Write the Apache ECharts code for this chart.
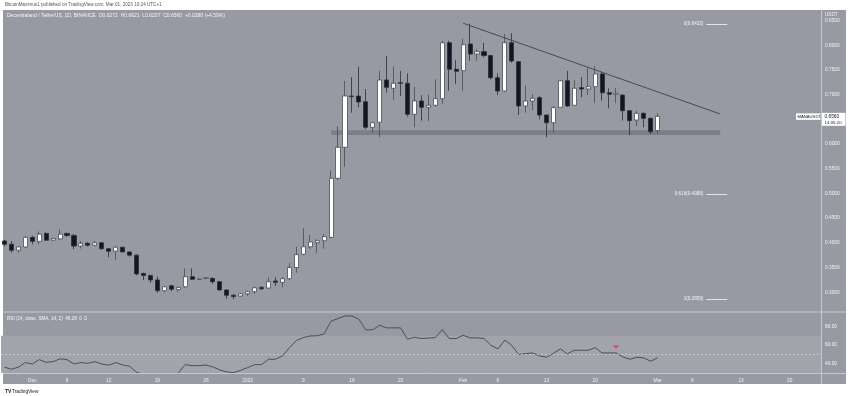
<!DOCTYPE html>
<html><head><meta charset="utf-8">
<script src="https://cdn.jsdelivr.net/npm/echarts@6/dist/echarts.min.js"></script>
<style>html,body{margin:0;padding:0;background:#fff}#c{width:850px;height:396px}</style>
</head><body><div id="c"></div>
<script>
// ---- categories (daily, Nov 27 2022 -> Mar 24 2023) ----
const dates = [
'2022-11-27','2022-11-28','2022-11-29','2022-11-30',
'2022-12-01','2022-12-02','2022-12-03','2022-12-04','2022-12-05','2022-12-06','2022-12-07','2022-12-08','2022-12-09','2022-12-10',
'2022-12-11','2022-12-12','2022-12-13','2022-12-14','2022-12-15','2022-12-16','2022-12-17','2022-12-18','2022-12-19','2022-12-20',
'2022-12-21','2022-12-22','2022-12-23','2022-12-24','2022-12-25','2022-12-26','2022-12-27','2022-12-28','2022-12-29','2022-12-30','2022-12-31',
'2023-01-01','2023-01-02','2023-01-03','2023-01-04','2023-01-05','2023-01-06','2023-01-07','2023-01-08','2023-01-09','2023-01-10',
'2023-01-11','2023-01-12','2023-01-13','2023-01-14','2023-01-15','2023-01-16','2023-01-17','2023-01-18','2023-01-19','2023-01-20',
'2023-01-21','2023-01-22','2023-01-23','2023-01-24','2023-01-25','2023-01-26','2023-01-27','2023-01-28','2023-01-29','2023-01-30','2023-01-31',
'2023-02-01','2023-02-02','2023-02-03','2023-02-04','2023-02-05','2023-02-06','2023-02-07','2023-02-08','2023-02-09','2023-02-10',
'2023-02-11','2023-02-12','2023-02-13','2023-02-14','2023-02-15','2023-02-16','2023-02-17','2023-02-18','2023-02-19','2023-02-20',
'2023-02-21','2023-02-22','2023-02-23','2023-02-24','2023-02-25','2023-02-26','2023-02-27','2023-02-28',
'2023-03-01','2023-03-02','2023-03-03','2023-03-04','2023-03-05','2023-03-06','2023-03-07','2023-03-08','2023-03-09','2023-03-10',
'2023-03-11','2023-03-12','2023-03-13','2023-03-14','2023-03-15','2023-03-16','2023-03-17','2023-03-18','2023-03-19','2023-03-20',
'2023-03-21','2023-03-22','2023-03-23','2023-03-24'
];

// ---- MANA/USDT daily OHLC (Nov 27 -> Mar 1) ----
const opens = [.4037,.397,.385,.3915,
.411,.403,.419,.4053,.408,.419,.415,.3935,.399,.395,.400,.388,.383,.391,.3815,.375,.338,.334,.3247,.303,.313,.3056,.311,.3314,.326,.3277,.328,.3213,.3045,.294,.2923,
.2968,.301,.3097,.3085,.3227,.32,.3273,.35,.3767,.392,.4002,.4043,.411,.5306,.5933,.6972,.697,.6856,.6338,.644,.7296,.7128,.7241,.7229,.6601,.6871,.6743,.6784,.6917,.805,.7512,
.7485,.8024,.7822,.787,.779,.7342,.7073,.805,.7666,.677,.687,.6938,.6587,.6431,.6743,.7281,.6784,.714,.7113,.716,.7417,.7038,.7006,.699,.6674,.6485,.6621,.652,
.6272];
const highs = [.406,.4035,.393,.4137,
.414,.423,.421,.410,.427,.4205,.4175,.4035,.4015,.404,.4015,.3895,.3935,.392,.3825,.3765,.3395,.335,.3314,.3127,.315,.311,.3484,.3484,.3275,.330,.3297,.3225,.3055,.2955,.2985,
.303,.3115,.3125,.33,.33,.331,.359,.392,.4294,.4158,.4075,.4178,.547,.6364,.7275,.735,.7565,.7113,.6445,.7484,.7787,.757,.7478,.743,.716,.6986,.70,.731,.809,.809,.77,
.813,.8433,.7917,.805,.7805,.743,.8227,.824,.768,.718,.701,.6972,.660,.677,.7296,.748,.7296,.735,.7544,.758,.7464,.7128,.714,.700,.668,.6674,.664,.653,
.6621];
const lows = [.393,.380,.380,.389,
.397,.397,.404,.403,.4065,.412,.387,.3885,.3925,.393,.386,.3706,.365,.3855,.372,.334,.3247,.319,.299,.300,.302,.3004,.309,.325,.3245,.326,.3166,.3034,.2868,.2859,.291,
.2925,.297,.3045,.3075,.3125,.31,.325,.3395,.375,.388,.3787,.388,.409,.527,.554,.6634,.6743,.6298,.623,.6136,.7038,.689,.6972,.6553,.6338,.6472,.646,.6755,.681,.708,.7215,
.708,.7686,.7686,.7755,.731,.699,.7053,.7646,.6587,.6634,.6688,.65,.6136,.623,.6743,.6755,.677,.6945,.699,.6836,.6877,.6722,.6824,.6472,.6182,.6364,.6338,.6202,
.6207];
const closes = [.397,.385,.3915,.411,
.403,.4175,.4053,.4087,.4175,.415,.3935,.399,.395,.400,.388,.383,.391,.3815,.375,.337,.334,.3247,.303,.311,.306,.3097,.3314,.3262,.3265,.3297,.3213,.3045,.2937,.2914,.2968,
.3012,.309,.3070,.3213,.32,.3273,.35,.376,.392,.4016,.4043,.4124,.5306,.5933,.6972,.696,.685,.6338,.6431,.7296,.7148,.7229,.7229,.6601,.6871,.6743,.6784,.6917,.805,.7512,.7472,
.801,.7822,.787,.779,.7342,.7073,.805,.768,.677,.687,.6925,.6587,.6431,.6735,.7281,.677,.7128,.7113,.716,.7417,.7038,.7006,.7026,.6674,.6472,.6621,.652,.6249,
.656];

// ---- RSI(14) ----
const rsi = [36,33.8,36,41,
39.5,44.2,41.3,42,45,44.2,39.5,41,40.3,42,39.5,38.1,41,38.4,37,30.7,28,25.5,21.5,25,24.5,29.5,38.8,37.7,37.7,38.4,36.3,33,30.9,30.2,32.7,
35.6,38.8,38.8,44.6,44.6,48.2,56.9,64.8,68,69.8,70,72,85.7,88.6,91.4,91.4,87.8,76.3,76.5,81.4,78.5,78.5,78.5,66.2,68.4,67,67.5,68,76.7,67,67,
70.5,67.7,67.7,67,59.7,55.8,65.2,59.7,49.6,50.7,51.4,48.2,46.8,51,55.8,50.4,54.3,54.3,54.3,57.1,51.4,51.4,51.4,47.1,44.6,46.8,46,42.4,
46.28];
const rsiSignal = [['2023-02-23', 57.5]];

// ---- drawings ----
const trendLine = [['2023-02-01', 0.8445], ['2023-03-10', 0.6607]];
const supportZone = {from: '2023-01-13', to: '2023-03-10', top: 0.628, bottom: 0.618};
const fibLevels = [0.8433, 0.4988, 0.2859];
const fibNames = ['0', '0.618', '1'];
const fibSpan = ['2023-03-08', '2023-03-11'];

// ---- tick labels ----
const tickDates = ['2022-12-01','2022-12-06','2022-12-12','2022-12-19','2022-12-26','2023-01-01','2023-01-09','2023-01-16','2023-01-23','2023-02-01','2023-02-06','2023-02-13','2023-02-20','2023-03-01','2023-03-06','2023-03-13','2023-03-20'];
const tickLabels = ['Dec','6','12','19','26','2023','9','16','23','Feb','6','13','20','Mar','6','13','20'];
const priceTicks = [0.30,0.35,0.40,0.45,0.50,0.55,0.60,0.65,0.70,0.75,0.80,0.85];
const rsiTicks = [40,60,80];

const FONT = 'Liberation Sans';
const candleData = opens.map((o, i) => [o, closes[i], lows[i], highs[i]]);

const chart = echarts.init(document.getElementById('c'));
const txt = (id, x, y, text, o) => Object.assign({
  type: 'text', id, x, y, z: 100,
  style: Object.assign({text, fill: '#f2f3f5', font: '5px ' + FONT, textVerticalAlign: 'middle'}, (o && o.style) || {})
}, o ? Object.assign({}, o, {style: undefined}) : {});

const option = {
  animation: false,
  backgroundColor: '#ffffff',
  graphic: [
    {type: 'rect', id: 'panel', z: -10, shape: {x: 3, y: 10, width: 843, height: 374}, style: {fill: '#979aa2'}},
    {type: 'line', id: 'sep', z: 50, shape: {x1: 3, y1: 312, x2: 846, y2: 312}, style: {stroke: '#b6b8bf', lineWidth: 1.5}},
    {type: 'line', id: 'dax', z: 50, shape: {x1: 3, y1: 373.5, x2: 846, y2: 373.5}, style: {stroke: '#c6c8ce', lineWidth: 1}},
    {type: 'line', id: 'pax', z: 50, shape: {x1: 821.5, y1: 10, x2: 821.5, y2: 384}, style: {stroke: '#c6c8ce', lineWidth: 1}},
    {type: 'text', id: 'hdr', z: 100, x: 5, y: 5, style: {text: 'BitcoinMaximus1 published on TradingView.com, Mar 01, 2023 10:24 UTC+1', fill: '#50535e', font: '4.6px ' + FONT, textVerticalAlign: 'middle'}},
    {type: 'text', id: 'leg', z: 100, x: 7, y: 15.5, style: {text: 'Decentraland / TetherUS, 1D, BINANCE  O0.6272  H0.6621  L0.6207  C0.6560  +0.0288 (+4.59%)', fill: '#f4f5f7', font: '5px ' + FONT, textVerticalAlign: 'middle'}},
    {type: 'text', id: 'rsil', z: 100, x: 7, y: 319, style: {text: 'RSI (14, close, SMA, 14, 2)  46.28  0  0', fill: '#f4f5f7', font: '4.6px ' + FONT, textVerticalAlign: 'middle'}},
    {type: 'text', id: 'usdt', z: 100, x: 825, y: 14.5, style: {text: 'USDT', fill: '#f4f5f7', font: '4.6px ' + FONT, textVerticalAlign: 'middle'}},
    {type: 'text', id: 'tvlogo', z: 100, x: 5, y: 392, style: {text: 'TV', fill: '#131722', font: 'bold 5px ' + FONT, textVerticalAlign: 'middle'}},
    {type: 'text', id: 'tvname', z: 100, x: 12, y: 392, style: {text: 'TradingView', fill: '#131722', font: '4.8px ' + FONT, textVerticalAlign: 'middle'}}
  ],
  grid: [
    {left: 1, right: 29, top: 20.5, height: 296.4},
    {left: 1, right: 29, top: 308, height: 64.75}
  ],
  xAxis: [
    {type: 'category', gridIndex: 0, data: dates, show: false},
    {type: 'category', gridIndex: 1, data: dates,
     axisLine: {show: false}, axisTick: {show: false},
     axisLabel: {interval: (i, v) => tickDates.indexOf(v) >= 0,
                 formatter: v => tickLabels[tickDates.indexOf(v)] || '',
                 color: '#f2f3f5', fontSize: 4.8, fontFamily: FONT, margin: 5}}
  ],
  yAxis: [
    {type: 'value', gridIndex: 0, position: 'right', min: 0.25, max: 0.85, interval: 0.05, scale: false,
     axisLine: {show: false}, axisTick: {show: false}, splitLine: {show: false},
     axisLabel: {color: '#f2f3f5', fontSize: 4.8, fontFamily: FONT, margin: 4,
                 formatter: v => priceTicks.some(t => Math.abs(t - v) < 1e-6) ? v.toFixed(4) : ''}},
    {type: 'value', gridIndex: 1, position: 'right', min: 30, max: 100, interval: 10,
     axisLine: {show: false}, axisTick: {show: false}, splitLine: {show: false},
     axisLabel: {color: '#f2f3f5', fontSize: 4.8, fontFamily: FONT, margin: 4,
                 formatter: v => rsiTicks.indexOf(Math.round(v)) >= 0 ? v.toFixed(2) : ''}}
  ],
  series: [
    {type: 'candlestick', xAxisIndex: 0, yAxisIndex: 0, data: candleData, barWidth: 4.6,
     itemStyle: {color: '#ffffff', color0: '#131722', borderColor: '#4a4d56', borderColor0: '#2a2d35', borderWidth: 0.8},
     markArea: {silent: true, itemStyle: {color: 'rgba(70,72,80,0.32)'},
       data: [[{xAxis: supportZone.from, yAxis: supportZone.top}, {xAxis: supportZone.to, yAxis: supportZone.bottom}]]}},
    {type: 'line', xAxisIndex: 0, yAxisIndex: 0, data: trendLine, symbol: 'none',
     lineStyle: {color: '#474a53', width: 1},
     markLine: {silent: true, symbol: 'none',
       lineStyle: {color: '#e3e5ea', width: 1, type: 'solid'},
       label: {position: 'start', distance: 3, color: '#f2f3f5', fontSize: 4.6, fontFamily: FONT},
       data: fibLevels.map((lv, i) => [
         {coord: [fibSpan[0], lv], label: {formatter: fibNames[i] + '(' + lv.toFixed(4) + ')'}},
         {coord: [fibSpan[1], lv]}])}},
    {type: 'line', xAxisIndex: 1, yAxisIndex: 1, data: rsi, symbol: 'none', clip: true,
     lineStyle: {color: '#4b4e57', width: 1},
     markArea: {silent: true, itemStyle: {color: '#a2a4ab'}, data: [[{yAxis: 30}, {yAxis: 70}]]},
     markLine: {silent: true, symbol: 'none', label: {show: false},
       lineStyle: {color: '#cfd1d6', width: 0.8, type: [2, 2]}, data: [{yAxis: 50}]}},
    {type: 'scatter', xAxisIndex: 1, yAxisIndex: 1, data: rsiSignal, symbol: 'triangle', symbolRotate: 180,
     symbolSize: [6, 4], itemStyle: {color: '#f23645'}}
  ]
};
chart.setOption(option);

// last-price labels positioned through the price scale
const lastIdx = closes.length - 1;
const py = chart.convertToPixel({xAxisIndex: 0, yAxisIndex: 0}, [lastIdx, closes[lastIdx]])[1];
chart.setOption({graphic: [
  {type: 'rect', id: 'symbox', z: 90, shape: {x: 796, y: py - 3, width: 24.5, height: 6.5}, style: {fill: '#ffffff'}},
  {type: 'text', id: 'symtxt', z: 100, x: 797.5, y: py + 0.3, style: {text: 'MANAUSDT', fill: '#131722', font: '4.2px ' + FONT, textVerticalAlign: 'middle'}},
  {type: 'rect', id: 'pbox', z: 90, shape: {x: 822, y: py - 3.5, width: 23.5, height: 13}, style: {fill: '#ffffff'}},
  {type: 'text', id: 'ptxt', z: 100, x: 824.5, y: py, style: {text: closes[lastIdx].toFixed(4), fill: '#131722', font: '4.8px ' + FONT, textVerticalAlign: 'middle'}},
  {type: 'text', id: 'ttxt', z: 100, x: 824.5, y: py + 6, style: {text: '14:35:20', fill: '#131722', font: '4.4px ' + FONT, textVerticalAlign: 'middle'}}
]});
</script></body></html>
